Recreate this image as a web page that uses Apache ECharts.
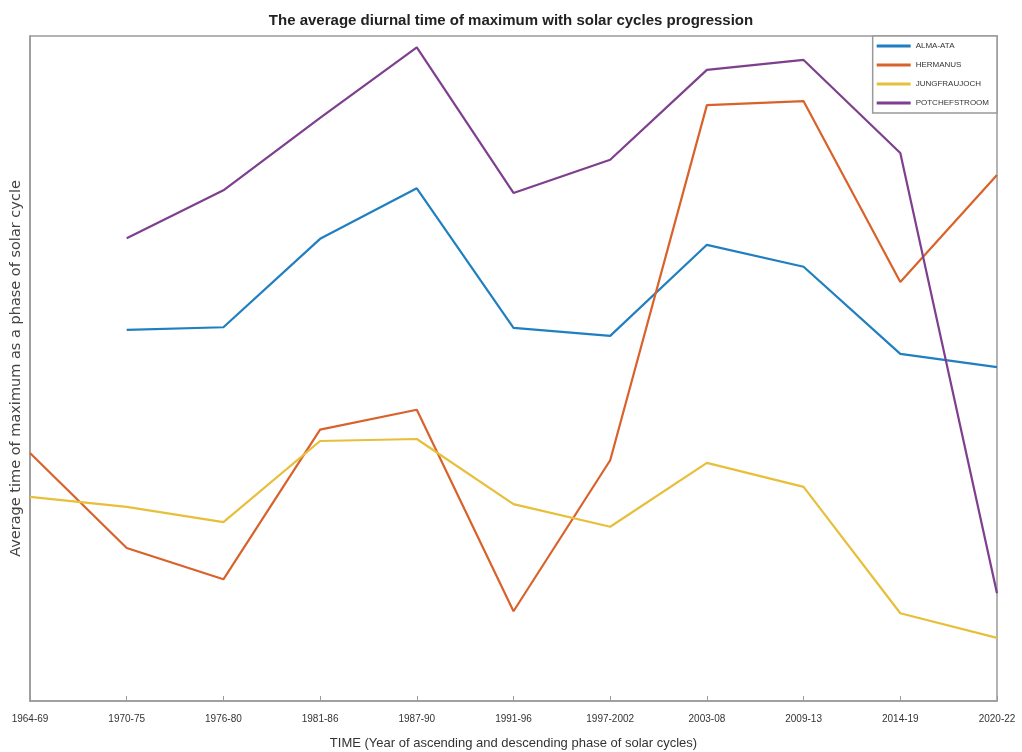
<!DOCTYPE html>
<html>
<head>
<meta charset="utf-8">
<script src="https://cdn.jsdelivr.net/npm/echarts@6/dist/echarts.min.js"></script>
<style>html,body{margin:0;padding:0;background:#fff;}#c{width:1022px;height:752px;}</style>
</head>
<body>
<div id="c"></div>
<script>
const categories = ['1964-69','1970-75','1976-80','1981-86','1987-90','1991-96','1997-2002','2003-08','2009-13','2014-19','2020-22'];
const almaAta = [null, 55.8, 56.2, 69.5, 77.1, 56.1, 54.9, 68.6, 65.3, 52.2, 50.2];
const hermanus = [37.3, 23.0, 18.3, 40.8, 43.8, 13.5, 36.2, 89.6, 90.2, 63.0, 79.1];
const jungfraujoch = [30.7, 29.2, 26.9, 39.1, 39.4, 29.6, 26.2, 35.8, 32.2, 13.2, 9.5];
const potchefstroom = [null, 69.6, 76.8, 87.7, 98.3, 76.4, 81.4, 94.9, 96.4, 82.4, 16.2];
const seriesNames = ['ALMA-ATA','HERMANUS','JUNGFRAUJOCH','POTCHEFSTROOM'];
const seriesData = [almaAta, hermanus, jungfraujoch, potchefstroom];
const colors = ['#1f7fc0','#d9622b','#e8bf3a','#7e3f8e'];

const chart = echarts.init(document.getElementById('c'));
chart.setOption({
  animation: false,
  backgroundColor: '#fff',
  title: {
    text: 'The average diurnal time of maximum with solar cycles progression',
    left: 'center', top: 8,
    textStyle: {fontFamily: 'Liberation Sans', fontSize: 15, fontWeight: 'bold', color: '#222'}
  },
  legend: {
    orient: 'vertical', right: 25, top: 36,
    data: seriesNames,
    backgroundColor: '#fff', borderColor: '#999', borderWidth: 1.5,
    padding: [6, 8, 6, 4],
    itemWidth: 34, itemHeight: 3, itemGap: 11,
    icon: 'rect',
    textStyle: {fontFamily: 'Liberation Sans', fontSize: 8, color: '#333'}
  },
  grid: {left: 30, right: 25, top: 36, bottom: 51, outerBoundsMode: 'none', containLabel: false, show: true, borderColor: '#9a9a9a', borderWidth: 1.5, backgroundColor: 'transparent'},
  xAxis: {
    type: 'category', data: categories, boundaryGap: false,
    name: 'TIME (Year of ascending and descending phase of solar cycles)',
    nameLocation: 'middle', nameGap: 36,
    nameTextStyle: {fontFamily: 'Liberation Sans', fontSize: 13, color: '#333'},
    axisLine: {lineStyle: {color: '#9a9a9a', width: 1.5}},
    axisTick: {inside: true, length: 5, alignWithLabel: true, lineStyle: {color: '#9a9a9a'}},
    axisLabel: {fontFamily: 'Liberation Sans', fontSize: 10, color: '#333', margin: 13, interval: 0},
    splitLine: {show: false}
  },
  yAxis: {
    type: 'value', min: 0, max: 100,
    name: 'Average time of maximum as a phase of solar cycle',
    nameLocation: 'middle', nameGap: 6, nameRotate: 90,
    nameTextStyle: {fontFamily: 'DejaVu Sans', fontSize: 14.5, color: '#444'},
    axisLine: {show: true, lineStyle: {color: '#9a9a9a', width: 1.5}},
    axisTick: {show: false}, axisLabel: {show: false}, splitLine: {show: false}
  },
  series: seriesNames.map((n, i) => ({
    name: n, type: 'line', data: seriesData[i], showSymbol: false, symbol: 'none',
    lineStyle: {width: 2.2, color: colors[i]}, itemStyle: {color: colors[i]}
  }))
});
</script>
</body>
</html>
